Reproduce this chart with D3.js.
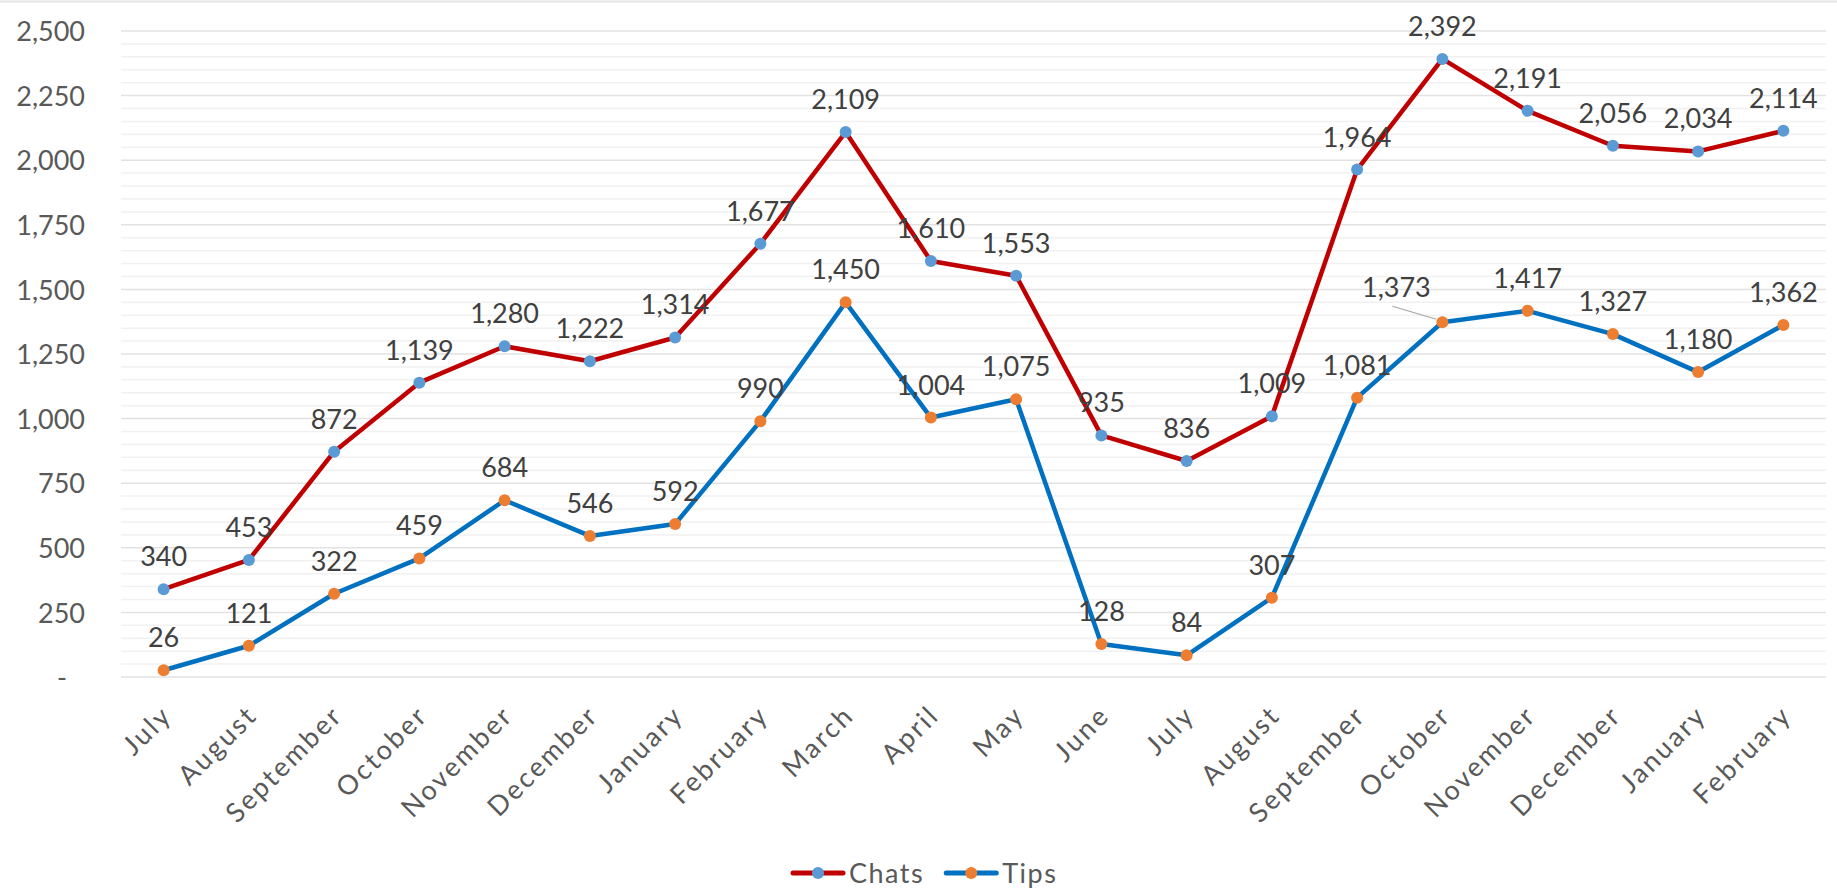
<!DOCTYPE html>
<html>
<head>
<meta charset="utf-8">
<script src="https://cdn.jsdelivr.net/npm/d3@7/dist/d3.min.js"></script>
<style>
  html, body { margin: 0; padding: 0; background: #fff; }
  svg { display: block; }
  text { font-family: "Century Gothic", Lato, "Open Sans", sans-serif; }
</style>
</head>
<body>
<svg id="chart"></svg>
<script>
/* ---------------- data ---------------- */
const MONTHS = ['July','August','September','October','November','December','January',
  'February','March','April','May','June','July','August','September','October',
  'November','December','January','February'];

const CHATS = [340, 453, 872, 1139, 1280, 1222, 1314, 1677, 2109, 1610,
  1553, 935, 836, 1009, 1964, 2392, 2191, 2056, 2034, 2114];

const TIPS = [26, 121, 322, 459, 684, 546, 592, 990, 1450, 1004,
  1075, 128, 84, 307, 1081, 1373, 1417, 1327, 1180, 1362];

const Y_TICKS = [0, 250, 500, 750, 1000, 1250, 1500, 1750, 2000, 2250, 2500];

const SERIES = [
  { name: 'Chats', values: CHATS, line: '#c00000', marker: '#5b9bd5' },
  { name: 'Tips',  values: TIPS,  line: '#0070c0', marker: '#ed7d31' },
];

/* ---------------- layout ---------------- */
const W = 1837, H = 891;
const M = { left: 121, right: 11, top: 31, bottom: 214 };

const svg = d3.select('#chart').attr('width', W).attr('height', H);

const x = d3.scaleBand()
  .domain(d3.range(MONTHS.length))
  .range([M.left, W - M.right]);
const cx = i => x(i) + x.bandwidth() / 2;

const y = d3.scaleLinear()
  .domain([0, 2500])
  .range([H - M.bottom, M.top]);

const fmt = d3.format(',');

// chart border (top edge only visible)
svg.append('line')
  .attr('x1', 0).attr('x2', W).attr('y1', 1.5).attr('y2', 1.5)
  .attr('stroke', '#e4e4e4').attr('stroke-width', 2);

/* ---------------- gridlines ---------------- */
const grid = svg.append('g');
grid.selectAll('line.minor')
  .data(d3.range(0, 2501, 50).filter(v => v % 250 !== 0))
  .join('line').attr('class', 'minor')
  .attr('x1', M.left).attr('x2', W - M.right)
  .attr('y1', d => y(d)).attr('y2', d => y(d))
  .attr('stroke', '#f1f1f1').attr('stroke-width', 1.5);

grid.selectAll('line.major')
  .data(Y_TICKS)
  .join('line').attr('class', 'major')
  .attr('x1', M.left).attr('x2', W - M.right)
  .attr('y1', d => y(d)).attr('y2', d => y(d))
  .attr('stroke', '#e2e2e2').attr('stroke-width', 1.5);

/* ---------------- axes ---------------- */
const yAxis = d3.axisLeft(y)
  .tickValues(Y_TICKS)
  .tickSize(0).tickPadding(36)
  .tickFormat(d => d === 0 ? '-' : fmt(d));

svg.append('g')
  .attr('transform', `translate(${M.left},0)`)
  .call(yAxis)
  .call(g => g.select('.domain').remove())
  .call(g => g.selectAll('text')
    .attr('font-family', '"Century Gothic", Lato, sans-serif')
    .attr('font-size', 27).attr('fill', '#595959')
    .attr('dy', '0.36em'))
  .call(g => g.selectAll('.tick').filter(d => d === 0).select('text').attr('dx', -18));

const xAxis = d3.axisBottom(x)
  .tickSize(0)
  .tickFormat(i => MONTHS[i]);

svg.append('g')
  .attr('transform', `translate(0,${H - M.bottom})`)
  .call(xAxis)
  .call(g => g.select('.domain').remove())
  .call(g => g.selectAll('text')
    .attr('font-family', '"Century Gothic", Lato, sans-serif')
    .attr('font-size', 27).attr('fill', '#595959')
    .attr('letter-spacing', 2.5)
    .attr('text-anchor', 'end')
    .attr('transform', 'translate(10,40) rotate(-45)')
    .attr('y', 0).attr('dy', 0));

/* ---------------- lines + markers ---------------- */
const line = d3.line().x((d, i) => cx(i)).y(d => y(d));

SERIES.forEach(s => {
  svg.append('path')
    .datum(s.values)
    .attr('d', line)
    .attr('fill', 'none')
    .attr('stroke', s.line)
    .attr('stroke-width', 4.5)
    .attr('stroke-linejoin', 'round')
    .attr('stroke-linecap', 'round');

  svg.append('g').selectAll('circle')
    .data(s.values)
    .join('circle')
    .attr('cx', (d, i) => cx(i))
    .attr('cy', d => y(d))
    .attr('r', 6)
    .attr('fill', s.marker);
});

/* ---------------- data labels ---------------- */
// label nudges (Excel moved one label off its point and drew a leader line)
const LABEL_NUDGE = { 'Tips-15': { dx: -46, dy: -2 } };

SERIES.forEach(s => {
  const lg = svg.append('g');
  s.values.forEach((v, i) => {
    const nudge = LABEL_NUDGE[`${s.name}-${i}`];
    const px = cx(i), py = y(v);
    const lx = px + (nudge ? nudge.dx : 0);
    const ly = py - 23 + (nudge ? nudge.dy : 0);
    if (nudge) {
      lg.append('line')
        .attr('x1', lx - 4).attr('y1', ly + 9)
        .attr('x2', px - 6).attr('y2', py - 3)
        .attr('stroke', '#a6a6a6').attr('stroke-width', 1.2);
    }
    lg.append('text')
      .attr('x', lx).attr('y', ly)
      .attr('text-anchor', 'middle')
      .attr('font-size', 27)
      .attr('fill', '#404040')
      .text(fmt(v));
  });
});

/* ---------------- legend ---------------- */
const legend = svg.append('g').attr('transform', `translate(0,${H - 18})`);
let lx = 793;
SERIES.forEach(s => {
  const g = legend.append('g').attr('transform', `translate(${lx},0)`);
  g.append('line').attr('x1', 0).attr('x2', 50).attr('y1', 0).attr('y2', 0)
    .attr('stroke', s.line).attr('stroke-width', 5).attr('stroke-linecap', 'round');
  g.append('circle').attr('cx', 25).attr('cy', 0).attr('r', 6).attr('fill', s.marker);
  const t = g.append('text').attr('x', 56).attr('y', 0).attr('dy', '0.36em')
    .attr('font-size', 27).attr('letter-spacing', 1.5).attr('fill', '#595959').text(s.name);
  lx += 56 + t.node().getComputedTextLength() + 22;
});
</script>
</body>
</html>
